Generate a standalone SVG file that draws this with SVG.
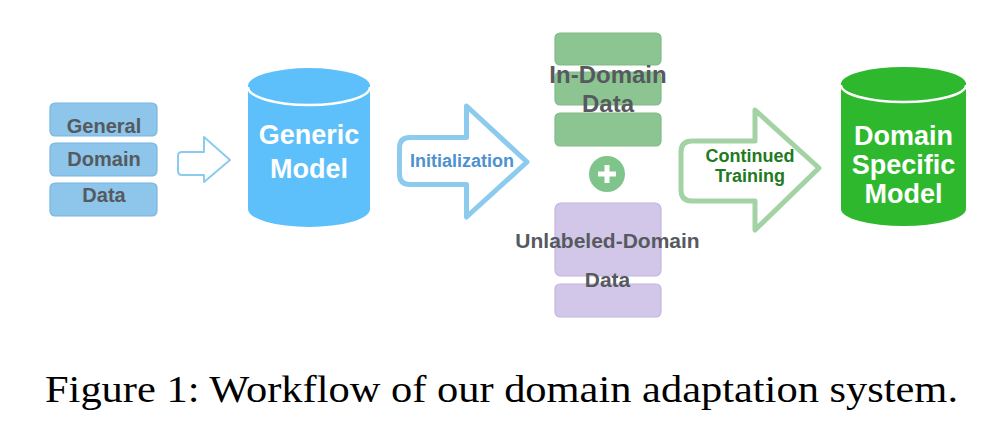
<svg xmlns="http://www.w3.org/2000/svg" width="988" height="438" viewBox="0 0 988 438">
  <style>
    .blk-blue { fill: #8dc5eb; stroke: #78b6e0; stroke-width: 1.2; }
    .blk-green { fill: #8cc591; stroke: #7fbb85; stroke-width: 1.2; }
    .blk-purple { fill: #d3c7e9; stroke: #c4b6df; stroke-width: 1.2; }
    .lbl { font-family: "Liberation Sans", Arial, sans-serif; font-weight: bold; text-anchor: middle; }
    .gray { fill: #565a5f; }
    .white { fill: #ffffff; }
    .cyl-line { fill: none; stroke: #ffffff; stroke-width: 2.5; }
    .cap { font-family: "Liberation Serif", "Times New Roman", serif; fill: #000000; }
  </style>
  <rect width="988" height="438" fill="#ffffff"/>

  <g id="general-domain-data">
    <rect class="blk-blue" x="50" y="103" width="107" height="33" rx="5"/>
    <rect class="blk-blue" x="50" y="143" width="107" height="33" rx="5"/>
    <rect class="blk-blue" x="50" y="183" width="107" height="33" rx="5"/>
    <text class="lbl gray" x="104" y="133" font-size="20">General</text>
    <text class="lbl gray" x="104" y="166" font-size="20">Domain</text>
    <text class="lbl gray" x="104" y="202" font-size="20">Data</text>
  </g>

  <g id="generic-model">
    <path d="M248,86 V209 A61,18 0 0 0 370,209 V86 A61,18 0 0 0 248,86 Z" fill="#5ec0fa"/>
    <path class="cyl-line" d="M248,87 A61,18 0 0 0 370,87"/>
    <text class="lbl white" x="309" y="144" font-size="27">Generic</text>
    <text class="lbl white" x="309" y="178" font-size="27">Model</text>
  </g>

  <g id="in-domain-data">
    <rect class="blk-green" x="555" y="33" width="106" height="32" rx="5"/>
    <rect class="blk-green" x="555" y="72" width="106" height="33" rx="5"/>
    <rect class="blk-green" x="555" y="113" width="106" height="33" rx="5"/>
    <text class="lbl gray" x="608" y="83" font-size="24">In-Domain</text>
    <text class="lbl gray" x="608" y="112" font-size="24">Data</text>
  </g>

  <g id="plus">
    <circle cx="607" cy="174" r="18" fill="#7fc48b"/>
    <path d="M598,174 H616 M607,165 V183" stroke="#ffffff" stroke-width="5" fill="none"/>
  </g>

  <g id="unlabeled-domain-data">
    <rect class="blk-purple" x="555" y="203" width="106" height="73" rx="6"/>
    <rect class="blk-purple" x="555" y="284" width="106" height="33" rx="5"/>
    <text class="lbl gray" x="607.5" y="248" font-size="21">Unlabeled-Domain</text>
    <text class="lbl gray" x="607.5" y="287" font-size="21">Data</text>
  </g>

  <g id="domain-specific-model">
    <path d="M841,84 V209 A62.5,17 0 0 0 966,209 V84 A62.5,17 0 0 0 841,84 Z" fill="#2eb82e"/>
    <path class="cyl-line" d="M841,85 A62.5,17 0 0 0 966,85"/>
    <text class="lbl white" x="903.5" y="145" font-size="27">Domain</text>
    <text class="lbl white" x="903.5" y="174" font-size="27">Specific</text>
    <text class="lbl white" x="903.5" y="203" font-size="27">Model</text>
  </g>

  <g id="connectors">
    <path d="M182,152 H204 V137 L230,160 L204,182 V175 H182 Q178,175 178,171 V156 Q178,152 182,152 Z" fill="#ffffff" stroke="#8ccbf0" stroke-width="2" stroke-linejoin="round"/>
    <g id="initialization">
      <path d="M410,137.5 H466.5 V106 L527,162 L466.5,217 V184.5 H410 Q399.5,184.5 399.5,174 V148 Q399.5,137.5 410,137.5 Z" fill="#ffffff" stroke="#8ccaee" stroke-width="5" stroke-linejoin="round"/>
      <text class="lbl" x="462" y="167" font-size="18" fill="#4d92d0">Initialization</text>
    </g>
    <g id="continued-training">
      <path d="M692,141 H755 V110 L819,168 L755,230 V201 H692 Q681,201 681,190 V152 Q681,141 692,141 Z" fill="#ffffff" stroke="#a3d3a5" stroke-width="5" stroke-linejoin="round"/>
      <text class="lbl" x="750" y="162" font-size="18" fill="#217a21">Continued</text>
      <text class="lbl" x="750" y="182" font-size="18" fill="#217a21">Training</text>
    </g>
  </g>

  <text class="cap" x="45" y="402" font-size="37" textLength="913" lengthAdjust="spacingAndGlyphs">Figure 1: Workflow of our domain adaptation system.</text>
</svg>
